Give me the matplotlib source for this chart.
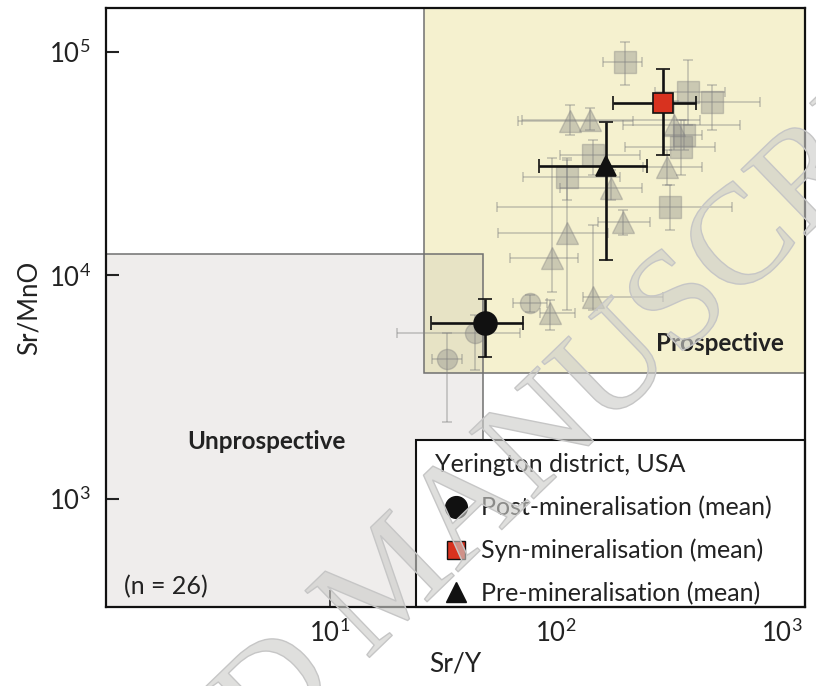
import numpy as np
import matplotlib
matplotlib.use("Agg")
import matplotlib.pyplot as plt
from matplotlib.patches import Rectangle
from matplotlib.lines import Line2D
import matplotlib.patheffects as pe

plt.rcParams['font.family'] = ['Lato', 'DejaVu Sans']
plt.rcParams['mathtext.fontset'] = 'custom'
plt.rcParams['mathtext.rm'] = 'Lato'

# ---------------- data ----------------
# axis limits
x_limits = [1.02, 1265]
y_limits = [329, 157000]

# field boundaries
prospective_x0, prospective_y0 = 26.1, 3660
unprospective_x1, unprospective_y1 = 47.6, 12470

# individual samples (grey): syn-mineralisation squares
syn_x = np.array([202, 384, 490, 357, 319, 146, 112, 368])
syn_x_lo = np.array([161, 274, 319, 202, 55, 104, 71.5, 297])
syn_x_hi = np.array([240, 560, 800, 505, 601, 236, 192, 443])
syn_y = np.array([90200, 66200, 59700, 37600, 20300, 34600, 27600, 42500])
syn_y_lo = np.array([71100, 47100, 44800, 28200, 16000, 28200, 21800, 36400])
syn_y_hi = np.array([111000, 92000, 71100, 49700, 25400, 40400, 33600, 49700])

# pre-mineralisation triangles
pre_x = np.array([115, 141, 333, 310, 175, 198, 112, 96, 146, 94])
pre_x_lo = np.array([67.9, 70.8, 198, 243, 104, 153, 55.4, 62.5, 132, 85])
pre_x_hi = np.array([219, 434, 652, 443, 240, 261, 170, 125, 297, 121])
pre_y = np.array([49100, 49700, 47100, 30600, 24600, 17300, 15500, 12000, 8020, 6800])
pre_y_lo = np.array([42500, 44800, 36400, 25400, 21800, 15200, 7010, 8430, 7010, 5700])
pre_y_hi = np.array([57900, 56100, 60000, 36400, 29600, 19600, 32900, 33600, 16800, 7770])

# post-mineralisation circles
post_x = np.array([76.8, 43.9, 33.0])
post_x_lo = np.array([64.5, 19.8, 28.3])
post_x_hi = np.array([91.2, 69.3, 38.4])
post_y = np.array([7530, 5530, 4230])
post_y_lo = np.array([6870, 3780, 2210])
post_y_hi = np.array([8180, 6660, 5530])

# means
mean_labels = ["Post-mineralisation (mean)", "Syn-mineralisation (mean)", "Pre-mineralisation (mean)"]
mean_x = np.array([48.5, 297, 166])
mean_x_lo = np.array([28.0, 179, 84])
mean_x_hi = np.array([71.5, 416, 253])
mean_y = np.array([6120, 59200, 30900])
mean_y_lo = np.array([4310, 34600, 11700])
mean_y_hi = np.array([7850, 84000, 48600])

x_ticks = [1e1, 1e2, 1e3]
y_ticks = [1e3, 1e4, 1e5]

# ---------------- figure ----------------
fig = plt.figure(figsize=(8.16, 6.86), dpi=100)
ax = fig.add_axes([0.1299, 0.1152, 0.8566, 0.8731])
ax.set_xscale('log')
ax.set_yscale('log')
ax.set_xlim(x_limits)
ax.set_ylim(y_limits)

grey_face = '#efedec'
yellow_face = '#f5f1cf'
overlap_face = '#e7e3c5'
edge_c = '#707070'

# fields
ax.add_patch(Rectangle((x_limits[0], y_limits[0]), unprospective_x1 - x_limits[0],
                       unprospective_y1 - y_limits[0], facecolor=grey_face, edgecolor='none', zorder=0.5))
ax.add_patch(Rectangle((prospective_x0, prospective_y0), x_limits[1] - prospective_x0,
                       y_limits[1] - prospective_y0, facecolor=yellow_face, edgecolor='none', zorder=0.6))
ov_x0 = max(prospective_x0, x_limits[0]); ov_x1 = min(unprospective_x1, x_limits[1])
ov_y0 = max(prospective_y0, y_limits[0]); ov_y1 = min(unprospective_y1, y_limits[1])
ax.add_patch(Rectangle((ov_x0, ov_y0), ov_x1 - ov_x0, ov_y1 - ov_y0,
                       facecolor=overlap_face, edgecolor='none', zorder=0.7))
ax.add_patch(Rectangle((x_limits[0], y_limits[0]), unprospective_x1 - x_limits[0],
                       unprospective_y1 - y_limits[0], facecolor='none', edgecolor=edge_c, lw=1.1, zorder=0.8))
ax.add_patch(Rectangle((prospective_x0, prospective_y0), x_limits[1] - prospective_x0,
                       y_limits[1] - prospective_y0, facecolor='none', edgecolor=edge_c, lw=1.1, zorder=0.8))

# individual samples
gcol = '#808080'
common = dict(ls='none', mfc=gcol, mec=gcol, ecolor=gcol, elinewidth=1.4,
              capsize=3.5, capthick=1.4, alpha=0.36, zorder=1)
ax.errorbar(syn_x, syn_y, xerr=[syn_x - syn_x_lo, syn_x_hi - syn_x],
            yerr=[syn_y - syn_y_lo, syn_y_hi - syn_y], marker='s', ms=16, **common)
ax.errorbar(pre_x, pre_y, xerr=[pre_x - pre_x_lo, pre_x_hi - pre_x],
            yerr=[pre_y - pre_y_lo, pre_y_hi - pre_y], marker='^', ms=16.5, **common)
ax.errorbar(post_x, post_y, xerr=[post_x - post_x_lo, post_x_hi - post_x],
            yerr=[post_y - post_y_lo, post_y_hi - post_y], marker='o', ms=14.5, **common)

# means
mean_markers = ['o', 's', '^']
mean_faces = ['#111111', '#d8321f', '#111111']
mean_sizes = [16.5, 14.3, 15]
for i in range(3):
    ax.errorbar([mean_x[i]], [mean_y[i]],
                xerr=[[mean_x[i] - mean_x_lo[i]], [mean_x_hi[i] - mean_x[i]]],
                yerr=[[mean_y[i] - mean_y_lo[i]], [mean_y_hi[i] - mean_y[i]]],
                marker=mean_markers[i], ms=mean_sizes[i], mfc=mean_faces[i], mec='#111111',
                mew=1.2, ecolor='#111111', elinewidth=1.9, capsize=4.8, capthick=1.9,
                ls='none', zorder=3)

# labels inside
ax.text(0.2289, 0.2771, 'Unprospective', transform=ax.transAxes, ha='center', va='center',
        fontsize=17.5, fontweight='bold', color='#222222', zorder=2)
ax.text(0.8784, 0.4407, 'Prospective', transform=ax.transAxes, ha='center', va='center',
        fontsize=17.5, fontweight='bold', color='#222222', zorder=2)
ax.text(0.0858, 0.0334, '(n = 26)', transform=ax.transAxes, ha='center', va='center',
        fontsize=18, color='#222222', zorder=2)

# legend box
ax.add_patch(Rectangle((0.4435, 0.0), 1 - 0.4435, 0.2788, transform=ax.transAxes,
                       facecolor='white', edgecolor='#111111', lw=1.5, zorder=4, clip_on=False))
handles = [Line2D([], [], ls='none', marker=mean_markers[i], ms=mean_sizes[i] * 0.95,
                  mfc=mean_faces[i], mec='#111111', mew=1.0) for i in range(3)]
leg = ax.legend(handles, mean_labels, title='Yerington district, USA', loc='upper left',
                bbox_to_anchor=(0.4435 + 7 / 699, 0.2788 - 1 / 599), borderaxespad=0, frameon=False,
                fontsize=18, title_fontsize=18, handlelength=1.68, handletextpad=0.16,
                labelspacing=0.78, borderpad=0.5, alignment='left', numpoints=1)
leg.set_zorder(5)
for t in leg.get_texts():
    t.set_color('#222222')
leg.get_title().set_color('#222222')

# axes styling
for s in ax.spines.values():
    s.set_linewidth(1.6)
    s.set_color('#111111')
    s.set_zorder(6)
ax.set_xticks(x_ticks)
ax.set_yticks(y_ticks)
ax.minorticks_off()
ax.tick_params(axis='x', direction='in', length=12, width=1.2, pad=9, labelsize=18.5,
               colors='#222222')
ax.tick_params(axis='y', direction='in', length=9.5, width=1.5, pad=11, labelsize=18.5,
               colors='#222222')
ax.set_xlabel('Sr/Y', fontsize=19, labelpad=3, color='#222222')
ax.set_ylabel('Sr/MnO', fontsize=18.5, labelpad=5, color='#222222')

# watermark
fig.text(0.484, 0.147, 'ACCEPTED MANUSCRIPT', rotation=44, rotation_mode='anchor',
         ha='center', va='center', fontsize=102, family='Liberation Serif',
         color=(0.8, 0.8, 0.79, 0.62), zorder=20,
         path_effects=[pe.Stroke(linewidth=1.0, foreground='#c6c6c6')])

fig.savefig('out.png', dpi=100)
